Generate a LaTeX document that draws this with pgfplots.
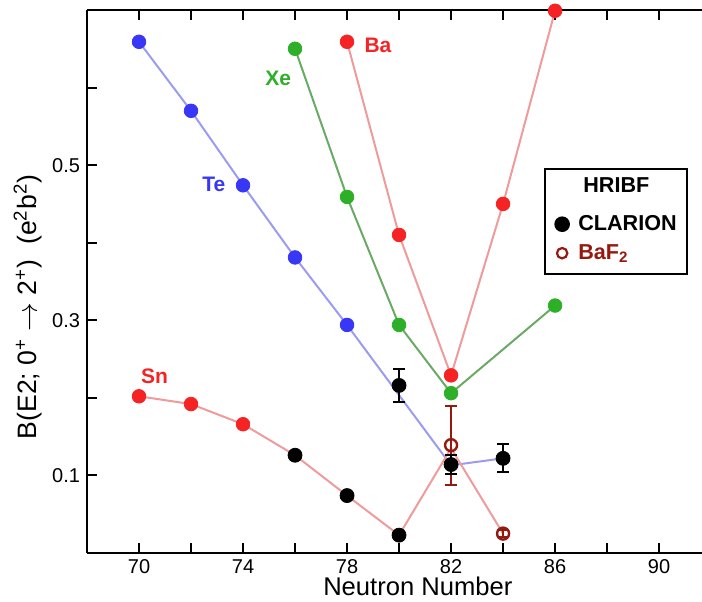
\documentclass[border=0pt]{standalone}
\usepackage{fontspec}
\setmainfont{Liberation Sans}
\usepackage{pgfplots}
\pgfplotsset{compat=1.18}
\definecolor{teM}{RGB}{55,55,245}
\definecolor{teL}{RGB}{155,155,240}
\definecolor{xeM}{RGB}{45,175,40}
\definecolor{xeL}{RGB}{105,170,100}
\definecolor{baM}{RGB}{245,35,35}
\definecolor{baL}{RGB}{240,155,155}
\definecolor{dred}{RGB}{150,25,15}
\begin{document}
\begin{tikzpicture}
\begin{axis}[
  scale only axis, width=307.5pt, height=271.5pt,
  xmin=68, xmax=91.65, ymin=0, ymax=0.7,
  axis x line*=box, axis y line*=left,
  axis line style={line width=1pt},
  tick align=inside,
  major tick length=5pt,
  tick style={line width=1pt, black},
  xtick={70,72,74,76,78,80,82,84,86,88,90},
  xticklabels={70,,74,,78,,82,,86,,90},
  ytick={0.1,0.2,0.3,0.4,0.5,0.6},
  yticklabels={0.1,,0.3,,0.5,},
  tick label style={font=\fontsize{10}{12}\selectfont},
  xticklabel style={inner sep=0pt, anchor=north, yshift=-3pt},
  /pgf/number format/assume math mode=true,
  xlabel={Neutron Number},
  ylabel={B(E2; 0\textsuperscript{+} $\rightarrow$ 2\textsuperscript{+})\ \ (e\textsuperscript{2}b\textsuperscript{2})},
  xlabel style={font=\fontsize{12.8}{14}\selectfont, at={(rel axis cs:0.538,0)}, anchor=base, inner sep=0pt, yshift=-21.5pt},
  ylabel style={font=\fontsize{13.3}{15}\selectfont, at={(rel axis cs:0,0.453)}, anchor=center, yshift=29.5pt},
  legend style={at={(axis cs:85.58,0.496)}, anchor=north west, draw=black, line width=1pt,
    font=\bfseries\fontsize{10.8}{13}\selectfont, cells={anchor=west},
    inner xsep=3pt, inner ysep=2pt, row sep=1.5pt,
    /tikz/every odd column/.append style={column sep=2pt}},
  legend image code/.code={\draw[#1] plot coordinates {(0pt,0pt)}; \path (-5pt,0pt) (3.6pt,0pt);},
  clip=false,
]
% lines
\addplot[forget plot, teL, line width=1pt, mark=none] coordinates {(70,0.659)(72,0.570)(74,0.474)(76,0.381)(78,0.294)(82,0.113)(84,0.122)};
\addplot[forget plot, baL, line width=1pt, mark=none] coordinates {(70,0.202)(72,0.192)(74,0.166)(76,0.126)(78,0.074)(80,0.023)(82,0.135)(84,0.025)};
\addplot[forget plot, xeL, line width=1pt, mark=none] coordinates {(76,0.650)(78,0.459)(80,0.294)(82,0.206)(86,0.319)};
\addplot[forget plot, baL, line width=1pt, mark=none] coordinates {(78,0.659)(80,0.410)(82,0.229)(84,0.450)(86,0.699)};
% markers
\addplot[forget plot, only marks, mark=*, mark size=3.4pt, teM] coordinates {(70,0.659)(72,0.570)(74,0.474)(76,0.381)(78,0.294)};
\addplot[forget plot, only marks, mark=*, mark size=3.4pt, baM] coordinates {(70,0.202)(72,0.192)(74,0.166)};
\addplot[forget plot, only marks, mark=*, mark size=3.4pt, xeM] coordinates {(76,0.650)(78,0.459)(80,0.294)(82,0.206)(86,0.319)};
\addplot[forget plot, only marks, mark=*, mark size=3.4pt, baM] coordinates {(78,0.659)(80,0.410)(82,0.229)(84,0.450)(86,0.699)};
% BaF2
\addplot[forget plot, only marks, mark=o, mark size=3pt, dred, line width=1.2pt,
  error bars/.cd, y dir=both, y explicit,
  error bar style={line width=1pt, dred},
  error mark options={rotate=90, mark size=3pt, line width=1pt, dred}]
  table[x=x, y=y, y error=e] {
x y e
82 0.139 0.051
84 0.025 0.004
};
% CLARION
\addplot[forget plot, only marks, mark=*, mark size=3.5pt, black,
  error bars/.cd, y dir=both, y explicit,
  error bar style={line width=1pt, black},
  error mark options={rotate=90, mark size=3pt, line width=1pt, black}]
  table[x=x, y=y, y error=e] {
x y e
76 0.126 0.004
78 0.074 0.004
80 0.023 0.004
80 0.216 0.021
82 0.114 0.012
84 0.122 0.018
};
% labels
\node[teM, font=\bfseries\fontsize{10.5}{12}\selectfont] at (axis cs:72.88,0.4755) {Te};
\node[xeM, font=\bfseries\fontsize{10.5}{12}\selectfont] at (axis cs:75.35,0.612) {Xe};
\node[baM, font=\bfseries\fontsize{10.5}{12}\selectfont] at (axis cs:79.19,0.655) {Ba};
\node[baM, font=\bfseries\fontsize{10.5}{12}\selectfont] at (axis cs:70.6,0.228) {Sn};
% legend
\addlegendimage{legend image code/.code={\path (0pt,-10.5pt) (0pt,2pt);}}
\addlegendentry{\hspace{2.5pt}HRIBF}
\addlegendimage{only marks, mark=*, mark size=3.4pt, black}
\addlegendentry{CLARION}
\addlegendimage{legend image code/.code={\draw[dred, line width=1.1pt, mark=o, mark size=2.6pt, only marks] plot coordinates {(0pt,0pt)}; \path (-5pt,-8pt) (3.6pt,0pt);}}
\addlegendentry{\textcolor{dred}{BaF\textsubscript{2}}}
\end{axis}
\pgfresetboundingbox
\path ([xshift=-43.5pt,yshift=-24.5pt]current axis.south west) rectangle ([yshift=5pt]current axis.north east);
\end{tikzpicture}
\end{document}
